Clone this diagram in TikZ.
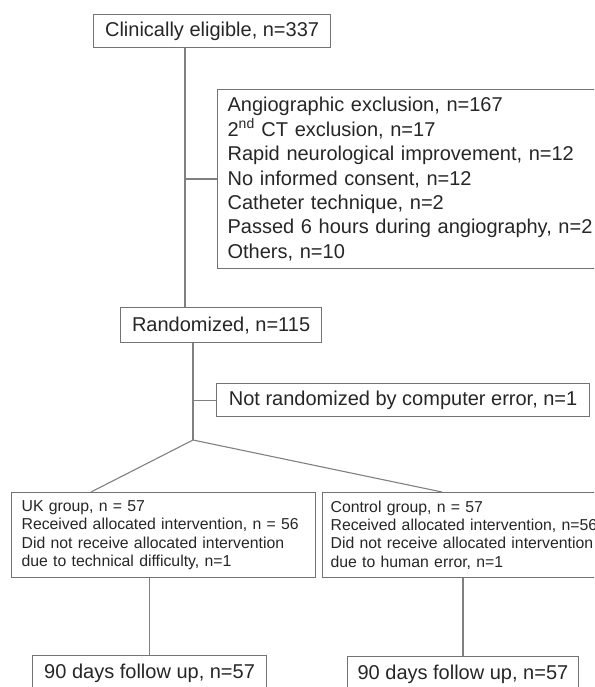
\documentclass[tikz,border=0pt]{standalone}
\usepackage{fontspec}
\setmainfont{Liberation Sans}
\usepackage{tikz}

\begin{document}
\begin{tikzpicture}[x=1pt,y=-1pt,
  box/.style={draw=black!55, line width=1.2pt, text=black!85, inner xsep=10pt,
    inner ysep=0pt, anchor=north west, font=\fontsize{20}{24.4}\selectfont},
  listbox/.style={box, align=left},
  groupbox/.style={box, align=left, font=\fontsize{15.8}{18.3}\selectfont},
  link/.style={draw=black!50, line width=1.1pt}]

% Frame (the page is cut at the right and bottom)
\clip (0,0) rectangle (594,687);
\useasboundingbox (0,0) rectangle (594,687);

% Screening
\node[box, minimum width=237pt, minimum height=33pt] (elig) at (93,14) {Clinically eligible, n=337};

% Exclusions
\node[listbox, text width=373pt, minimum height=179pt] (excl) at (217,89)
  {Angiographic exclusion, n=167\\
   2\textsuperscript{nd} CT exclusion, n=17\\
   Rapid neurological improvement, n=12\\
   No informed consent, n=12\\
   Catheter technique, n=2\\
   Passed 6 hours during angiography, n=2\\
   Others, n=10};

% Randomization
\node[box, minimum width=201pt, minimum height=35pt] (rand) at (120,307) {Randomized, n=115};
\node[box, minimum width=373pt, minimum height=33pt] (notr) at (216,383) {Not randomized by computer error, n=1};

% Groups
\node[groupbox, text width=284pt, minimum height=85pt] (uk) at (11,492)
  {UK group, n = 57\\
   Received allocated intervention, n = 56\\
   Did not receive allocated intervention\\
   due to technical difficulty, n=1};
\node[groupbox, text width=284pt, minimum height=85pt, inner xsep=8pt] (ctrl) at (322,492)
  {Control group, n = 57\\
   Received allocated intervention, n=56\\
   Did not receive allocated intervention\\
   due to human error, n=1};

% Follow up
\node[box, minimum width=234pt, minimum height=35pt] (fuuk) at (32,655) {90 days follow up, n=57};
\node[box, minimum width=230pt, minimum height=35pt] (fuctrl) at (347,656) {90 days follow up, n=57};

% Junctions
\coordinate (trunk) at (185,179);
\coordinate (split) at (193,440);

% Connectors
\draw[link] (trunk |- elig.south) -- (trunk |- rand.north);
\draw[link] (trunk) -- (excl.west |- trunk);
\draw[link] (split |- rand.south) -- (split);
\draw[link] (split |- notr.west) -- (notr.west);
\draw[link] ([xshift=80pt]uk.north west) -- (split) -- ([xshift=120pt]ctrl.north west);
\draw[link] (fuuk.north |- uk.south) -- (fuuk.north);
\draw[link] (fuctrl.north |- ctrl.south) -- (fuctrl.north);

\end{tikzpicture}
\end{document}
